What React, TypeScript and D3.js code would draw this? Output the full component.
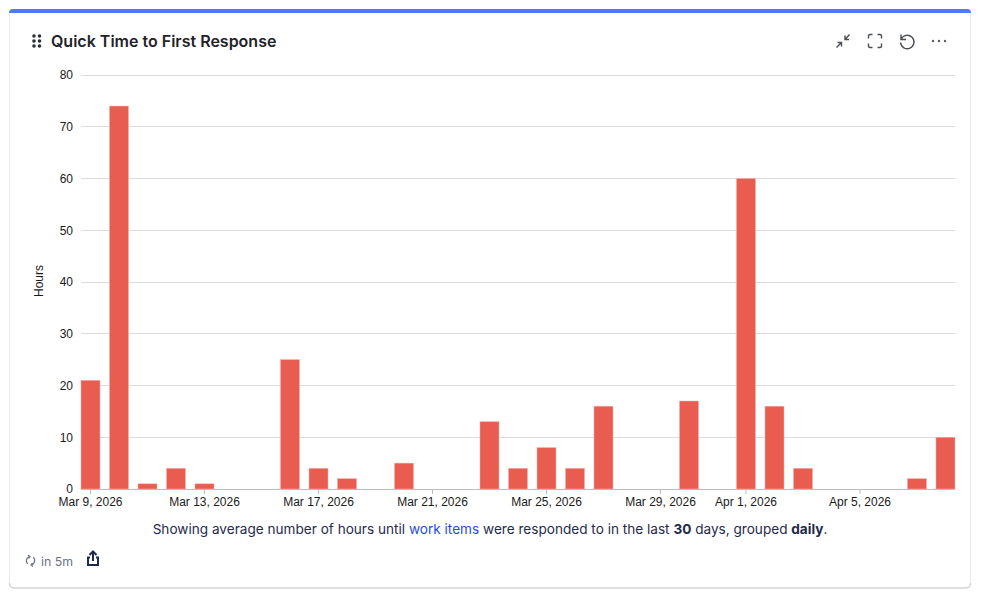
import { useEffect, useRef } from "react"
import * as d3 from "d3"

const days = [
  "Mar 9", "Mar 10", "Mar 11", "Mar 12", "Mar 13", "Mar 14", "Mar 15", "Mar 16",
  "Mar 17", "Mar 18", "Mar 19", "Mar 20", "Mar 21", "Mar 22", "Mar 23", "Mar 24",
  "Mar 25", "Mar 26", "Mar 27", "Mar 28", "Mar 29", "Mar 30", "Mar 31", "Apr 1",
  "Apr 2", "Apr 3", "Apr 4", "Apr 5", "Apr 6", "Apr 7", "Apr 8",
]
const hours = [21, 74, 1, 4, 1, 0, 0, 25, 4, 2, 0, 5, 0, 0, 13, 4, 8, 4, 16, 0, 0, 17, 0, 60, 16, 4, 0, 0, 0, 2, 10]
const xTicks = ["Mar 9", "Mar 13", "Mar 17", "Mar 21", "Mar 25", "Mar 29", "Apr 1", "Apr 5"]
const yTicks = [0, 10, 20, 30, 40, 50, 60, 70, 80]

const width = 981
const height = 594
const uiFont = "Inter, sans-serif"
const axisFont = "'Liberation Sans', Arial, sans-serif"

export default function App() {
  const svgRef = useRef<SVGSVGElement | null>(null)

  useEffect(() => {
    if (!svgRef.current) return
    const svg = d3.select(svgRef.current)
    svg.selectAll("*").remove()

    // Card
    svg.append("rect").attr("x", 9.5).attr("y", 9.5).attr("width", 961).attr("height", 578.5).attr("rx", 4)
      .attr("fill", "#fff").attr("stroke", "#e8e9eb")
    svg.append("path").attr("d", "M9.5 583 Q9.5 588 14 588 H966 Q970.5 588 970.5 583")
      .attr("fill", "none").attr("stroke", "#c9cacc")
    svg.append("path").attr("d", "M9 13 Q9 9 13 9 H967 Q971 9 971 13 Z").attr("fill", "#4a7cf6")

    // Header
    const grip = svg.append("g").attr("fill", "#2b2f36")
    for (const cx of [34, 39.5]) {
      for (const cy of [36, 41, 46]) grip.append("circle").attr("cx", cx).attr("cy", cy).attr("r", 1.8)
    }
    svg.append("text").attr("x", 51).attr("y", 47).attr("font-family", uiFont).attr("font-size", 16)
      .attr("font-weight", 600).attr("fill", "#1f2329").text("Quick Time to First Response")

    // Toolbar icons
    const icons = svg.append("g").attr("fill", "none").attr("stroke", "#4a4e55").attr("stroke-width", 1.4)
    icons.append("path").attr("d", "M836.5 47.5 L841.5 42.5 M837.5 42.5 H841.5 V46.5 M849.5 34.5 L845 39.5 M845 35.5 V39.5 H849")
    icons.append("path").attr("d", "M868.5 38.5 V36 Q868.5 34.5 870 34.5 H872.5 M877.5 34.5 H880 Q881.5 34.5 881.5 36 V38.5 M881.5 43.5 V46 Q881.5 47.5 880 47.5 H877.5 M872.5 47.5 H870 Q868.5 47.5 868.5 46 V43.5")
    icons.append("path").attr("d", "M901 34.5 V39.5 H906 M901.2 39.2 A6.7 6.7 0 1 1 900.6 42.5")
    const dots = svg.append("g").attr("fill", "#5a5e65")
    for (const cx of [933, 939, 945]) dots.append("circle").attr("cx", cx).attr("cy", 41).attr("r", 1.2)

    // Scales
    const x = d3.scaleBand<string>().domain(days).range([81, 955]).paddingInner(1 / 3).paddingOuter(0)
    const y = d3.scaleLinear().domain([0, 80]).range([489, 75])

    // Grid
    svg.append("g").selectAll("line").data(yTicks.slice(1)).join("line")
      .attr("x1", 81).attr("x2", 955)
      .attr("y1", (d) => Math.floor(y(d)) + 0.5).attr("y2", (d) => Math.floor(y(d)) + 0.5)
      .attr("stroke", "#dcdcdc")

    // Y axis
    const yAxis = svg.append("g").attr("transform", "translate(81,0)")
      .call(d3.axisLeft(y).tickValues(yTicks).tickSize(0).tickPadding(8))
    yAxis.select(".domain").remove()
    yAxis.selectAll("text").attr("font-family", axisFont).attr("font-size", 12).attr("fill", "#1a1a1a")

    svg.append("text").attr("transform", "translate(43,281) rotate(-90)").attr("text-anchor", "middle")
      .attr("font-family", axisFont).attr("font-size", 12).attr("fill", "#1a1a1a").text("Hours")

    // Bars
    svg.append("g").selectAll("rect").data(hours.map((h, i) => ({ day: days[i], h })).filter((d) => d.h > 0)).join("rect")
      .attr("x", (d) => x(d.day) as number)
      .attr("y", (d) => y(d.h))
      .attr("width", x.bandwidth())
      .attr("height", (d) => y(0) - y(d.h))
      .attr("fill", "#e95d50")
      .attr("stroke", "#f3b0a9")
      .attr("stroke-width", 0.5)

    // X axis
    const xAxis = svg.append("g").attr("transform", "translate(0,489)")
      .call(
        d3.axisBottom(x)
          .tickValues(xTicks)
          .tickSize(5)
          .tickPadding(3.5)
          .tickFormat((d) => `${d}, 2026`),
      )
    xAxis.select(".domain").attr("d", "M81 0.5 H955").attr("stroke", "#bdbdbd")
    xAxis.selectAll("line").attr("stroke", "#bdbdbd")
    xAxis.selectAll("text").attr("font-family", axisFont).attr("font-size", 12).attr("fill", "#1a1a1a")

    // Caption
    const caption = svg.append("text").attr("x", 490).attr("y", 534).attr("text-anchor", "middle")
      .attr("font-family", uiFont).attr("font-size", 13.6).attr("fill", "#1f2a4d")
    caption.append("tspan").text("Showing average number of hours until ")
    caption.append("tspan").attr("fill", "#1d4ed8").text("work items")
    caption.append("tspan").text(" were responded to in the last ")
    caption.append("tspan").attr("font-weight", 700).text("30")
    caption.append("tspan").text(" days, grouped ")
    caption.append("tspan").attr("font-weight", 700).text("daily")
    caption.append("tspan").text(".")

    // Footer
    const refresh = svg.append("g").attr("fill", "none").attr("stroke", "#6b7385").attr("stroke-width", 1.2)
    refresh.append("path").attr("d", "M27.5 564 Q25.5 561 27 558.5 Q28 557 30 556.5 M28 555 L30 556.5 L28.5 558.5")
    refresh.append("path").attr("d", "M33.5 557 Q35.5 560 34 563 Q33 564.5 31 565 M33 566.5 L31 565 L32.5 563")
    svg.append("text").attr("x", 41).attr("y", 566).attr("font-family", uiFont).attr("font-size", 12.3)
      .attr("fill", "#6b7385").text("in 5m")
    svg.append("path").attr("d", "M93 552 V561 M89.5 555 L93 551.5 L96.5 555 M90 557.5 H88 V565 H98 V557.5 H96")
      .attr("fill", "none").attr("stroke", "#1f2a4d").attr("stroke-width", 2)
  }, [])

  return <svg ref={svgRef} width={width} height={height} style={{ position: "absolute", left: 0, top: 0, background: "#fff" }} />
}
